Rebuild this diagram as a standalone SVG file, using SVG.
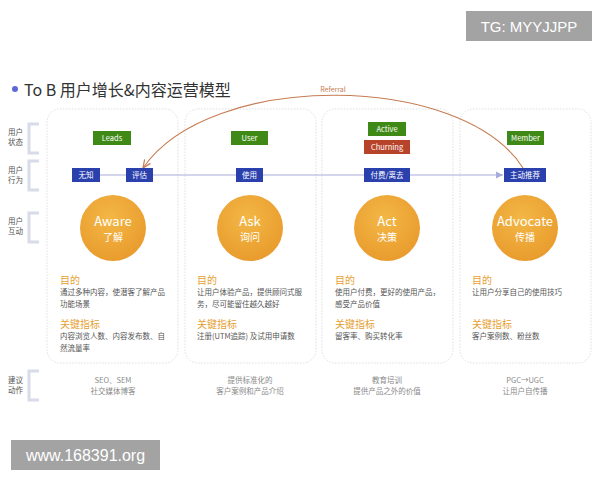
<svg xmlns="http://www.w3.org/2000/svg" width="600" height="480" viewBox="0 0 600 480">
<defs>
<style>
text{font-family:"Noto Sans CJK SC","Liberation Sans",sans-serif}
.col{fill:#fff;stroke:#d6d6d6;stroke-width:0.8;stroke-dasharray:1.5 1.5}
.lab{font-size:7.5px;fill:#555}
.brk{fill:none;stroke:#d8dbe8;stroke-width:3}
.g{fill:#3f8a17}
.r{fill:#b8432b}
.b{fill:#2a40ad}
.bt{font-size:7.5px;fill:#fff;text-anchor:middle}
.c1{font-size:13px;font-weight:normal;fill:#fff;text-anchor:middle}
.c2{font-size:10px;fill:#fff;text-anchor:middle}
.h{font-size:10px;fill:#e7a033}
.t{font-size:7.5px;fill:#555}
.s{font-size:7.5px;fill:#8a8a8a;text-anchor:middle}
.wm{fill:#a3a3a3}
.wmt{fill:#fff;font-family:"Liberation Sans",sans-serif}
</style>
<radialGradient id="og" cx="0.45" cy="0.35" r="0.7">
<stop offset="0" stop-color="#f3b745"/>
<stop offset="1" stop-color="#e89a2c"/>
</radialGradient>
<marker id="ab" markerWidth="8" markerHeight="8" refX="7" refY="4" orient="auto" markerUnits="userSpaceOnUse">
<path d="M0,0.5 L7,4 L0,7.5 Z" fill="#a8acdc"/>
</marker>
<marker id="ar" markerWidth="9" markerHeight="9" refX="8" refY="4.5" orient="auto" markerUnits="userSpaceOnUse">
<path d="M0,1 L8,4.5 L0,8" fill="none" stroke="#c67c52" stroke-width="1.2"/>
</marker>
</defs>
<rect width="600" height="480" fill="#fff"/>

<g id="watermark-top"><rect class="wm" x="466" y="11" width="126" height="30"/><text class="wmt" x="529" y="32" font-size="15" text-anchor="middle">TG: MYYJJPP</text></g>
<g id="watermark-bottom"><rect class="wm" x="11" y="440" width="149" height="30"/><text class="wmt" x="85.5" y="461" font-size="16" text-anchor="middle">www.168391.org</text></g>

<g id="title"><circle cx="15" cy="89" r="3" fill="#5b68d6"/><text x="24" y="96" font-size="16" fill="#333">To B 用户增长&amp;内容运营模型</text></g>

<g id="columns">
<rect class="col" x="47" y="109" width="131" height="254" rx="13"/>
<rect class="col" x="185" y="109" width="131" height="254" rx="13"/>
<rect class="col" x="322" y="109" width="131" height="254" rx="13"/>
<rect class="col" x="460" y="109" width="131" height="254" rx="13"/>
</g>

<g id="row-labels">
<text class="lab" x="8" y="135">用户</text><text class="lab" x="8" y="145">状态</text>
<path class="brk" d="M39,124 H29 V153 H39"/>
<text class="lab" x="8" y="173">用户</text><text class="lab" x="8" y="183">行为</text>
<path class="brk" d="M39,161 H29 V190 H39"/>
<text class="lab" x="8" y="224">用户</text><text class="lab" x="8" y="234">互动</text>
<path class="brk" d="M39,213 H29 V242 H39"/>
<text class="lab" x="8" y="383">建议</text><text class="lab" x="8" y="393">动作</text>
<path class="brk" d="M39,371 H29 V400 H39"/>
</g>

<g id="connectors">
<line x1="100" y1="175" x2="126" y2="175" stroke="#a8acdc" stroke-width="1"/>
<line x1="153" y1="175" x2="503" y2="175" stroke="#a8acdc" stroke-width="1" marker-end="url(#ab)"/>
<path d="M523,168 C462,72 210,70 143,168" fill="none" stroke="#c67c52" stroke-width="1.1" marker-end="url(#ar)"/>
<text x="333" y="92" font-size="7" fill="#c67c52" text-anchor="middle" font-family="Liberation Sans,sans-serif">Referral</text>
</g>

<g id="leads"><rect class="g" x="93" y="131" width="38" height="14"/><text class="bt" x="112" y="141">Leads</text></g>
<g id="user"><rect class="g" x="231" y="131" width="37" height="14"/><text class="bt" x="249.5" y="141">User</text></g>
<g id="active"><rect class="g" x="368" y="122" width="38" height="14"/><text class="bt" x="387" y="132">Active</text></g>
<g id="churning"><rect class="r" x="364" y="140" width="46" height="14"/><text class="bt" x="387" y="150">Churning</text></g>
<g id="member"><rect class="g" x="507" y="131" width="37" height="14"/><text class="bt" x="525.5" y="141">Member</text></g>

<g id="wuzhi"><rect class="b" x="72" y="168" width="28" height="14"/><text class="bt" x="86" y="178">无知</text></g>
<g id="pinggu"><rect class="b" x="126" y="168" width="27" height="14"/><text class="bt" x="139.5" y="178">评估</text></g>
<g id="shiyong"><rect class="b" x="236" y="168" width="27" height="14"/><text class="bt" x="249.5" y="178">使用</text></g>
<g id="fufei"><rect class="b" x="364" y="168" width="46" height="14"/><text class="bt" x="387" y="178">付费/离去</text></g>
<g id="tuijian"><rect class="b" x="504" y="168" width="42" height="14"/><text class="bt" x="525" y="178">主动推荐</text></g>

<g id="aware"><circle cx="113" cy="228" r="33" fill="url(#og)"/><text class="c1" x="113" y="226">Aware</text><text class="c2" x="113" y="241">了解</text></g>
<g id="ask"><circle cx="250" cy="228" r="33" fill="url(#og)"/><text class="c1" x="250" y="226">Ask</text><text class="c2" x="250" y="241">询问</text></g>
<g id="act"><circle cx="387" cy="228" r="33" fill="url(#og)"/><text class="c1" x="387" y="226">Act</text><text class="c2" x="387" y="241">决策</text></g>
<g id="advocate"><circle cx="525" cy="228" r="33" fill="url(#og)"/><text class="c1" x="525" y="226">Advocate</text><text class="c2" x="525" y="241">传播</text></g>

<g id="text-aware">
<text class="h" x="60" y="284">目的</text>
<text class="t" x="60" y="295">通过多种内容，使潜客了解产品</text>
<text class="t" x="60" y="307">功能场景</text>
<text class="h" x="60" y="328">关键指标</text>
<text class="t" x="60" y="339">内容浏览人数、内容发布数、自</text>
<text class="t" x="60" y="351">然流量率</text>
</g>
<g id="text-ask">
<text class="h" x="197" y="284">目的</text>
<text class="t" x="197" y="295">让用户体验产品，提供顾问式服</text>
<text class="t" x="197" y="307">务，尽可能留住越久越好</text>
<text class="h" x="197" y="328">关键指标</text>
<text class="t" x="197" y="339">注册(UTM追踪) 及试用申请数</text>
</g>
<g id="text-act">
<text class="h" x="335" y="284">目的</text>
<text class="t" x="335" y="295">使用户付费，更好的使用产品，</text>
<text class="t" x="335" y="307">感受产品价值</text>
<text class="h" x="335" y="328">关键指标</text>
<text class="t" x="335" y="339">留客率、购买转化率</text>
</g>
<g id="text-advocate">
<text class="h" x="472" y="284">目的</text>
<text class="t" x="472" y="295">让用户分享自己的使用技巧</text>
<text class="h" x="472" y="328">关键指标</text>
<text class="t" x="472" y="339">客户案例数、粉丝数</text>
</g>

<g id="actions">
<text class="s" x="113" y="383">SEO、SEM</text><text class="s" x="113" y="394">社交媒体博客</text>
<text class="s" x="250" y="383">提供标准化的</text><text class="s" x="250" y="394">客户案例和产品介绍</text>
<text class="s" x="387" y="383">教育培训</text><text class="s" x="387" y="394">提供产品之外的价值</text>
<text class="s" x="525" y="383">PGC→UGC</text><text class="s" x="525" y="394">让用户自传播</text>
</g>
</svg>
